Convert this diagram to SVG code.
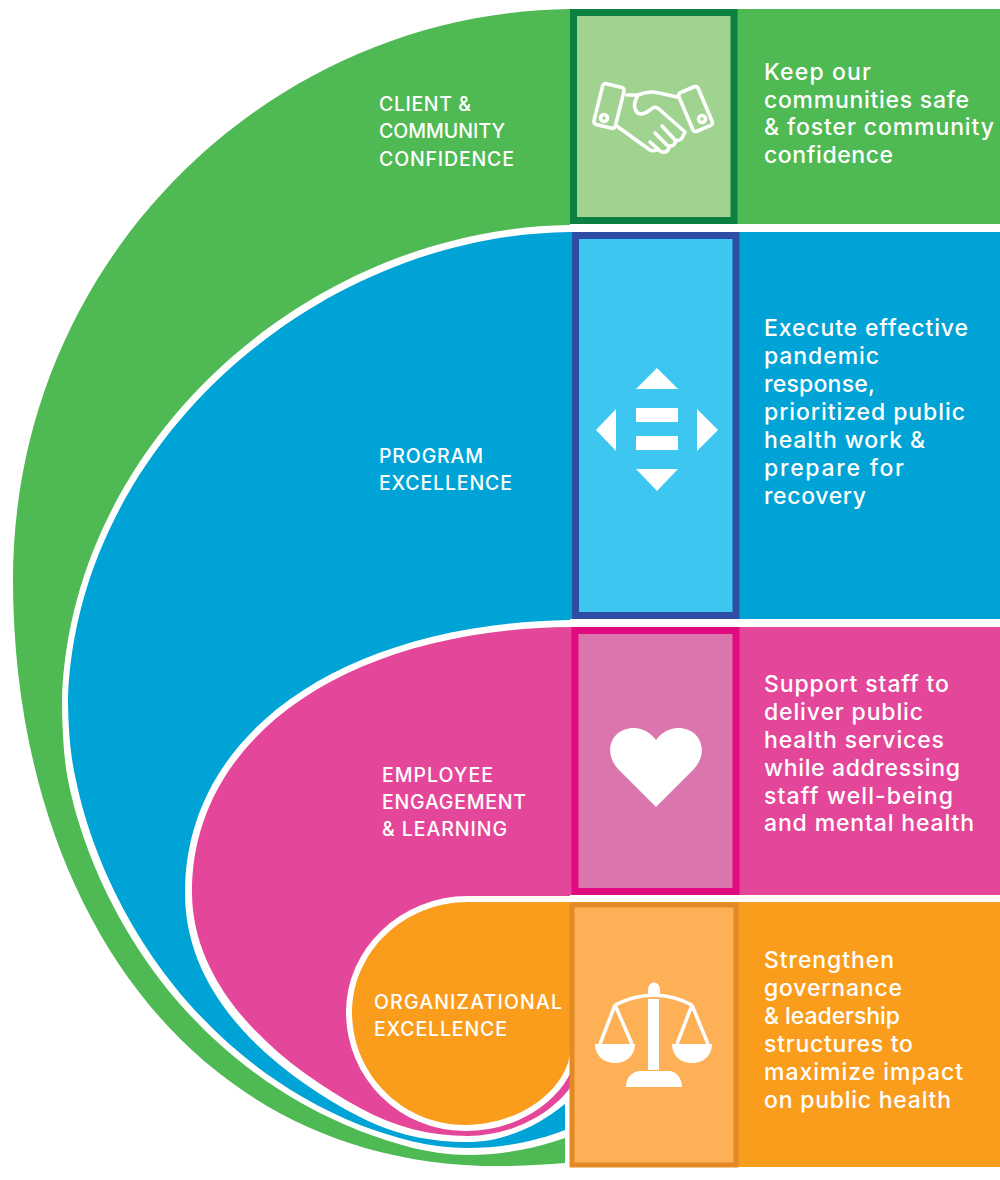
<svg xmlns="http://www.w3.org/2000/svg" width="1000" height="1180" viewBox="0 0 1000 1180">
<style>
text{font-family:"Inter","Liberation Sans",sans-serif;fill:#fff;font-weight:500}
.l{font-size:19.500px}
.r{font-size:23px}
.box{stroke-width:7}
.w{fill:#fff}
.ln{fill:none;stroke:#fff;stroke-width:3.600;stroke-linecap:round;stroke-linejoin:round}
.g{fill:#4fb953}.b{fill:#00a3d5}.p{fill:#e4479a}.o{fill:#fb9d1c}
</style>
<rect width="1000" height="1180" fill="#fff"/>
<g id="client">
<path class="g" d="M570 9C270 12 13 260 13 580C13 900 190 1172 510 1166Q540 1165 565 1163V1090H570Z"/>
<rect class="g" x="570" y="9" width="430" height="215"/>
</g>
<g id="program">
<path class="w" d="M570 225C310 228 72 440 62 697C62 730 64 760 68 780C88 882 168 1055 360 1131C395 1144 430 1155 467 1155C505 1155 540 1147 565 1138V1090H570Z"/>
<path class="b" d="M570 232C315 235 78 445 68 697C68 730 71 760 76 780C96 880 175 1050 360 1125C395 1138 430 1148 467 1148C505 1148 540 1140 565 1130V1090H570Z"/>
<rect class="b" x="570" y="232" width="430" height="387"/>
</g>
<g id="employee">
<path class="w" d="M570 620C347 623 185 730 185 893C185 995 270 1070 360 1117C395 1135 430 1142 468 1142C505 1142 540 1125 566 1103V1095H570Z"/>
<path class="p" d="M570 627C350 629 192 735 192 892C192 990 280 1065 360 1108C395 1127 430 1136 468 1136C510 1136 550 1115 570 1088Z"/>
<rect class="p" x="570" y="627" width="430" height="268"/>
</g>
<g id="organizational">
<path class="o" stroke="#fff" stroke-width="12" paint-order="stroke" d="M570 902H468C404 902 352 952 352 1012C352 1074 402 1125 465 1125C520 1125 565 1090 570 1054Z"/>
<rect class="w" x="570" y="895" width="10" height="8"/>
<rect class="o" x="570" y="902" width="430" height="265"/>
</g>
<g id="boxes">
<rect class="box" x="573.500" y="12.500" width="160.500" height="208" fill="#a0d38f" stroke="#0c8040"/>
<rect class="box" x="575.500" y="235.500" width="160.500" height="380" fill="#3dc6f0" stroke="#2e4ea5"/>
<rect class="box" x="575" y="630.500" width="161" height="261" fill="#da75ae" stroke="#e20a80"/>
<rect x="572" y="905" width="164" height="260" fill="#fdb055" stroke="#e38925" stroke-width="5"/>
</g>
<g id="icon-handshake">
<rect class="ln" x="598" y="85" width="22" height="42" rx="3" transform="rotate(14 609 106)"/>
<rect class="ln" x="685" y="88" width="21" height="42" rx="3" transform="rotate(-23 695.500 109)"/>
<circle class="ln" cx="604" cy="118" r="3.500" stroke-width="2.500"/>
<circle class="ln" cx="702" cy="119" r="3.500" stroke-width="2.500"/>
<path class="ln" d="M627 95H638C635 100 633 106 636 111C639 116 645 114 650 110C654 107 655 106 659 109L685 132L682 138C681 140 678 141 675 140M638 95C645 92 652 91 659 93L677 97M618 127L650 150C652 151 656 151 658 149C661 153 666 153 668 150L670 146C674 146 676 143 675 140M662 126L675 140M655 133L668 146M650 142L658 149"/>
</g>
<g id="icon-arrows" fill="#fff">
<path d="M657 368L678 389H636ZM657 491L636 469H678ZM596 430L616 409V451ZM718 430L697 409V451Z"/>
<rect x="636" y="408" width="42" height="14"/><rect x="636" y="436" width="42" height="14"/>
</g>
<g id="icon-heart"><path fill="#fff" d="M656 807L618 769C602 751 612 728 634 728C643 728 651 733 656 740C661 733 669 728 678 728C700 728 710 751 694 769Z"/></g>
<g id="icon-scale" fill="#fff">
<path d="M648 990C648 980 660 980 660 990V994H648ZM648 999H659V1070H648ZM626 1087C626 1076 634 1071 640 1071H669C676 1071 682 1078 682 1087Z"/>
<path d="M595 1044H635C635 1056 626 1063 615 1063C604 1063 595 1056 595 1044ZM672 1044H712C712 1056 703 1063 692 1063C681 1063 672 1056 672 1044Z"/>
<path fill="none" stroke="#fff" stroke-width="3.500" d="M615 1005C640 992 668 992 692 1005M615 1005L600 1044M615 1005L632 1044M692 1005L677 1044M692 1005L708 1044"/>
</g>
<g id="labels">
<text class="l" x="379" y="111" textLength="92">CLIENT &amp;</text><text class="l" x="379" y="138" textLength="126">COMMUNITY</text><text class="l" x="379" y="166" textLength="135">CONFIDENCE</text>
<text class="l" x="379" y="463" textLength="104">PROGRAM</text><text class="l" x="379" y="490" textLength="133">EXCELLENCE</text>
<text class="l" x="382" y="782" textLength="111">EMPLOYEE</text><text class="l" x="382" y="809" textLength="144">ENGAGEMENT</text><text class="l" x="382" y="836" textLength="125">&amp; LEARNING</text>
<text class="l" x="374" y="1009" textLength="188">ORGANIZATIONAL</text><text class="l" x="374" y="1036" textLength="133">EXCELLENCE</text>
<text class="r" x="764" y="80" textLength="107">Keep our</text><text class="r" x="764" y="108" textLength="205">communities safe</text><text class="r" x="764" y="135" textLength="230">&amp; foster community</text><text class="r" x="764" y="163" textLength="129">confidence</text>
<text class="r" x="764" y="336" textLength="204">Execute effective</text><text class="r" x="764" y="364" textLength="115">pandemic</text><text class="r" x="764" y="392" textLength="111">response,</text><text class="r" x="764" y="420" textLength="201">prioritized public</text><text class="r" x="764" y="448" textLength="161">health work &amp;</text><text class="r" x="764" y="476" textLength="140">prepare for</text><text class="r" x="764" y="504" textLength="102">recovery</text>
<text class="r" x="764" y="692" textLength="185">Support staff to</text><text class="r" x="764" y="720" textLength="159">deliver public</text><text class="r" x="764" y="748" textLength="180">health services</text><text class="r" x="764" y="776" textLength="196">while addressing</text><text class="r" x="764" y="804" textLength="189">staff well-being</text><text class="r" x="764" y="831" textLength="210">and mental health</text>
<text class="r" x="764" y="968" textLength="130">Strengthen</text><text class="r" x="764" y="996" textLength="138">governance</text><text class="r" x="764" y="1024" textLength="136">&amp; leadership</text><text class="r" x="764" y="1052" textLength="149">structures to</text><text class="r" x="764" y="1080" textLength="199">maximize impact</text><text class="r" x="764" y="1108" textLength="187">on public health</text>
</g>
</svg>
